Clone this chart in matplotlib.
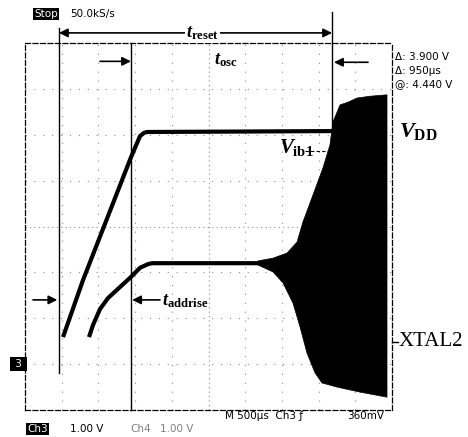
import numpy as np
import matplotlib
matplotlib.use("Agg")
import matplotlib.pyplot as plt

plt.rcParams['mathtext.fontset'] = 'custom'
plt.rcParams['mathtext.it'] = 'Liberation Serif:italic:bold'
plt.rcParams['mathtext.rm'] = 'Liberation Serif:bold'

# 时间 (µs), 电压 (V)；500µs/div, 1V/div
vdd_t = [518, 790, 1444, 1567, 1620, 1662, 4183]
vdd_v = [0.59, 1.83, 4.51, 4.97, 5.04, 5.06, 5.08]

xtal_t = [872, 926, 1022, 1131, 1294, 1444, 1567, 1676, 1730, 3174]
xtal_v = [0.59, 0.85, 1.20, 1.44, 1.68, 1.90, 2.10, 2.18, 2.20, 2.20]

# XTAL2 振荡包络
env_top_t = [3174, 3379, 3569, 3706, 3787, 3924, 4060, 4155, 4196, 4292, 4401, 4523, 4700, 4932]
env_top_v = [2.25, 2.31, 2.42, 2.66, 3.10, 3.69, 4.28, 4.78, 5.28, 5.65, 5.71, 5.80, 5.84, 5.87]
env_bot_t = [3174, 3379, 3515, 3651, 3747, 3842, 3951, 4046, 4251, 4564, 4932]
env_bot_v = [2.16, 2.01, 1.77, 1.33, 0.81, 0.24, -0.19, -0.41, -0.50, -0.61, -0.72]

cursors = [463, 1444, 4183]

W, H = 468, 437
fig = plt.figure(figsize=(W / 100, H / 100), dpi=100)
ax = fig.add_axes([25 / W, 1 - 410 / H, 367 / W, 367 / H])
ax.set_xlim(0, 5000)
ax.set_ylim(-1, 7)
ax.set_xticks([])
ax.set_yticks([])
for s in ax.spines.values():
    s.set_linestyle((0, (4, 2)))
    s.set_linewidth(0.9)

# 网格
for gx in np.arange(500, 5000, 500):
    ax.axvline(gx, color='0.55', lw=0.8, ls=(0, (1, 7)) if gx != 2500 else (0, (1, 3)), zorder=0)
for gy in np.arange(0, 7, 1):
    ax.axhline(gy, color='0.55', lw=0.8, ls=(0, (1, 7)) if gy != 3 else (0, (1, 3)), zorder=0)

def fp(px, py):
    return px / W, 1 - py / H

# 光标线
ax.plot([cursors[0]] * 2, [-0.19, 7.33], color='k', lw=1.0, clip_on=False, zorder=2)
ax.plot([cursors[1]] * 2, [-1, 7], color='k', lw=1.0, clip_on=False, zorder=2)
ax.plot([cursors[2]] * 2, [0, 7.68], color='k', lw=1.0, clip_on=False, zorder=2)

# 波形
ax.plot(vdd_t, vdd_v, color='k', lw=3.0, solid_capstyle='butt', solid_joinstyle='round', zorder=3)
ax.plot(xtal_t, xtal_v, color='k', lw=3.0, solid_capstyle='butt', solid_joinstyle='round', zorder=3)
ax.fill(np.r_[env_top_t, env_bot_t[::-1]], np.r_[env_top_v, env_bot_v[::-1]],
        color='k', lw=0.5, zorder=4)

ap = dict(arrowstyle='-|>', color='k', lw=1.2, mutation_scale=13, shrinkA=0, shrinkB=0)
ap2 = dict(ap, arrowstyle='<|-|>')
ax.annotate('', xy=(cursors[0], 7.22), xytext=(cursors[2], 7.22), arrowprops=ap2, annotation_clip=False)
ax.annotate('', xy=(cursors[1], 6.6), xytext=(1022, 6.6), arrowprops=ap)
ax.annotate('', xy=(4210, 6.58), xytext=(4673, 6.58), arrowprops=ap)
ax.annotate('', xy=(440, 1.4), xytext=(109, 1.4), arrowprops=ap)
ax.annotate('', xy=(1460, 1.4), xytext=(1839, 1.4), arrowprops=ap)
ax.plot([3815, 4128], [4.65, 4.65], color='k', lw=0.8, ls=(0, (3, 2)))

# 标注
fig.text(*fp(186, 33), r'$t_{\mathrm{reset}}$', fontsize=13, va='center',
         bbox=dict(facecolor='white', edgecolor='none', pad=1))
fig.text(*fp(214, 60), r'$t_{\mathrm{osc}}$', fontsize=13, va='center')
fig.text(*fp(162, 301), r'$t_{\mathrm{addrise}}$', fontsize=13, va='center')
fig.text(*fp(399, 131), r'$V_{\mathrm{DD}}$', fontsize=16, va='center')
fig.text(*fp(279, 148), r'$V_{\mathrm{ib1}}$', fontsize=15, va='center')
fig.text(*fp(399, 342), 'XTAL2', fontsize=15, va='center', family='Liberation Serif')
fig.add_artist(plt.Line2D([392 / W, 398 / W], [1 - 342 / H] * 2, color='k', lw=1))

sc = dict(fontsize=7.5, family='DejaVu Sans', va='center')
fig.text(*fp(395, 57), 'Δ: 3.900 V', **sc)
fig.text(*fp(395, 71), 'Δ: 950µs', **sc)
fig.text(*fp(395, 84), '@: 4.440 V', **sc)
fig.text(*fp(34, 14), 'Stop', color='white', bbox=dict(facecolor='k', edgecolor='none', pad=1), **sc)
fig.text(*fp(70, 14), '50.0kS/s', **sc)
fig.text(*fp(12, 364), ' 3 ', color='white', bbox=dict(facecolor='k', edgecolor='none', pad=1.5), **sc)
fig.text(*fp(27, 429), 'Ch3', color='white', bbox=dict(facecolor='k', edgecolor='none', pad=1), **sc)
fig.text(*fp(70, 429), '1.00 V', **sc)
fig.text(*fp(130, 429), 'Ch4', color='0.5', **sc)
fig.text(*fp(160, 429), '1.00 V', color='0.5', **sc)
fig.text(*fp(225, 416), 'M 500µs  Ch3 ƒ', **sc)
fig.text(*fp(347, 416), '360mV', **sc)

fig.savefig('out.png', dpi=100)
